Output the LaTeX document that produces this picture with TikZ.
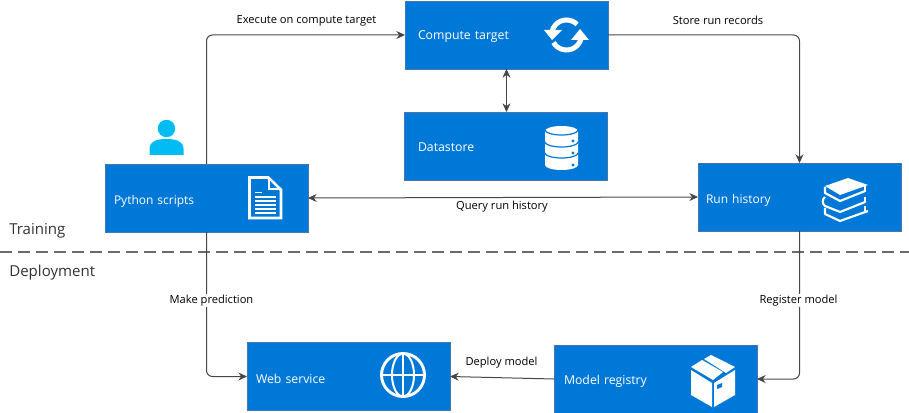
\documentclass[tikz,border=0pt]{standalone}
\usepackage{fontspec}
\setmainfont{Open Sans}
\usepackage{xcolor}
\usetikzlibrary{arrows.meta,positioning,calc}
\definecolor{boxblue}{RGB}{0,120,215}
\definecolor{boxedge}{RGB}{70,120,175}
\definecolor{personcyan}{RGB}{0,188,242}
\definecolor{linegray}{RGB}{70,70,70}

\begin{document}
\begin{tikzpicture}[
    x=0.75pt, y=-0.75pt,
    box/.style={rectangle, draw=boxedge, fill=boxblue, text=white, minimum height=51pt, inner xsep=#1, text width=152.25pt-2*#1, text height=10.2pt, text depth=2pt, outer sep=0pt, align=left, font=\fontsize{9.2}{11}\selectfont},
    flow/.style={draw=linegray, line width=0.75pt, rounded corners=4.5pt, -{Stealth[length=6.5pt,width=6pt]}},
    both/.style={flow, {Stealth[length=6.5pt,width=6pt]}-{Stealth[length=6.5pt,width=6pt]}},
    tag/.style={font=\fontsize{8.35}{10}\selectfont, inner sep=1pt},
    phase/.style={font=\fontsize{11.3}{13}\selectfont, text=black!80, inner sep=0pt, anchor=west},
    icon/.style={draw=white, line width=2.2pt},
    iconthin/.style={draw=white, line width=1.6pt, line join=round},
    lip/.style={draw=boxblue, line width=0.9pt}
]
    \useasboundingbox (0,0) rectangle (909,413);

    % Boxes
    \node[box=9.75pt, text height=8.8pt] (compute) at (506.5,35) {Compute target};
    \node[box=10.5pt] (datastore) at (505.5,146) {Datastore};
    \node[box=6.75pt, text height=11.4pt, font=\fontsize{9}{11}\selectfont] (python) at (206.5,198) {Python scripts};
    \node[box=6pt, text height=11.2pt, font=\fontsize{9}{11}\selectfont] (runs) at (799.5,197) {Run history};
    \node[box=6.75pt, text height=12.6pt] (web) at (348.5,376.5) {Web service};
    \node[box=7.5pt] (registry) at (655.5,379) {Model registry};

    % Training / Deployment
    \coordinate (splitL) at (0,252);
    \coordinate (splitR) at (909,252);
    \draw[draw=linegray!80, line width=1.1pt, dash pattern=on 9pt off 4.5pt] (splitL) -- (splitR);
    \node[phase] (training) at (9,231) {Training};
    \node[phase] (deployment) at (9,273) {Deployment};

    % Connectors
    \draw[flow] (python.north) |- (compute.west);
    \draw[flow] (compute.east) -| (runs.north);
    \draw[both] (compute.south) -- (compute.south |- datastore.north);
    \draw[both] (python.east) -- (runs.west);
    \draw[flow] (python.south) |- (web.west);
    \draw[flow] (runs.south) |- (registry.east);
    \draw[flow] (registry.west) -- (web.east);

    % Connector labels
    \node[tag] (execute) at (306.5,20.5) {Execute on compute target};
    \node[tag] (store) at (718,20) {Store run records};
    \node[tag, fill=white] (query) at (502,206.5) {Query run history};
    \node[tag, fill=white] (predict) at (211.5,300.5) {Make prediction};
    \node[tag, fill=white] (register) at (798.5,300.5) {Register model};
    \node[tag] (deploy) at (501.5,362.5) {Deploy model};

    % Person
    \fill[personcyan] (166.5,128.5) circle (8.7);
    \fill[personcyan] (149.5,155) -- (149.5,149) .. controls (149.5,141) and (157,139) .. (166.5,139) .. controls (176,139) and (183.5,141) .. (183.5,149) -- (183.5,155) -- cycle;

    % Refresh icon
    \draw[icon, line width=3.75pt] ([shift={(566.5,35)}]-45:15) arc (-45:-170:15);
    \fill[white] (544,30) -- (562,30) -- (552,40) -- cycle;
    \draw[icon, line width=3.75pt] ([shift={(566.5,35)}]150:15) arc (150:10:15);
    \fill[white] (571,40) -- (589,40) -- (580,29) -- cycle;

    % Datastore icon
    \fill[white] (545,131) arc (180:360:16.5 and 5) -- (578,165) arc (0:180:16.5 and 5) -- cycle;
    \foreach \ylip/\ydot in {130/141, 142/153, 153/165} {
        \draw[lip] (545,\ylip) arc (180:0:16.5 and 5);
        \fill[boxblue] (573,\ydot) circle (1.6);
    }

    % Document icon
    \draw[icon] (249.5,177.5) -- (268,177.5) -- (281,190) -- (281,218) -- (249.5,218) -- cycle;
    \fill[white] (268,177.5) -- (268,190) -- (281,190) -- cycle;
    \fill[boxblue] (270,181) -- (270,188) -- (277,188) -- cycle;
    \draw[draw=white, line width=1.2pt] (255,192.5) -- (262,192.5);
    \foreach \ypos in {197,201,205,209,213}
        \draw[draw=white, line width=1.2pt] (255,\ypos) -- (276,\ypos);

    % Books icon
    \fill[white] (825,186) -- (848,178) -- (868,185) -- (840,195) -- cycle;
    \draw[iconthin] (825,187) -- (825,193) -- (840,201) -- (865,191);
    \draw[iconthin] (825,197) .. controls (822,199) and (822,204) .. (825,206) -- (840,212) -- (865,202);
    \draw[iconthin] (825,208) -- (825,214) -- (840,221) -- (868,211);
    \draw[iconthin] (865,186) -- (865,192) (865,197) -- (865,203) (865,206) -- (865,211);

    % Globe icon
    \draw[icon] (403,375) circle (21.5);
    \draw[draw=white, line width=1.5pt] (403,353.5) -- (403,396.5) (381.5,375) -- (424.5,375);
    \draw[draw=white, line width=1.5pt] (403,375) ellipse (11 and 21.5);

    % Package icon
    \fill[white] (691,370) -- (712,383) -- (712,407) -- (691,395) -- cycle;
    \fill[white] (735,370) -- (714,383) -- (714,407) -- (735,395) -- cycle;
    \fill[white] (691,367) -- (702,360) -- (723,372) -- (713,380) -- cycle;
    \fill[white] (704,359) -- (711,355) -- (735,367) -- (726,373) -- cycle;
    \fill[boxblue] (717,385) -- (722,383) -- (722,387) -- (717,389) -- cycle;
\end{tikzpicture}
\end{document}
